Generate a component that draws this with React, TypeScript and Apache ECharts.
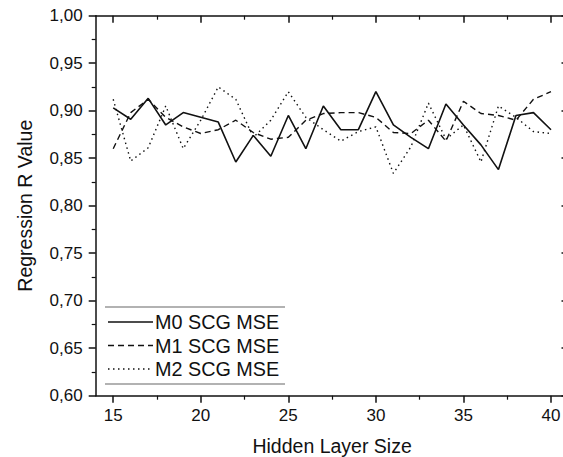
import React, { useEffect, useRef } from "react";
import * as echarts from "echarts";

const hiddenSizes = [15, 16, 17, 18, 19, 20, 21, 22, 23, 24, 25, 26, 27, 28, 29, 30, 31, 32, 33, 34, 35, 36, 37, 38, 39, 40];
const m0 = [0.903, 0.891, 0.913, 0.885, 0.898, 0.893, 0.888, 0.846, 0.874, 0.852, 0.895, 0.860, 0.905, 0.880, 0.880, 0.920, 0.885, 0.872, 0.860, 0.907, 0.885, 0.864, 0.838, 0.895, 0.898, 0.880];
const m1 = [0.860, 0.898, 0.912, 0.893, 0.883, 0.876, 0.880, 0.890, 0.877, 0.870, 0.872, 0.890, 0.897, 0.898, 0.898, 0.893, 0.877, 0.876, 0.890, 0.868, 0.910, 0.897, 0.895, 0.890, 0.912, 0.920];
const m2 = [0.912, 0.847, 0.861, 0.905, 0.860, 0.890, 0.925, 0.912, 0.872, 0.890, 0.920, 0.893, 0.880, 0.868, 0.878, 0.883, 0.834, 0.862, 0.908, 0.870, 0.885, 0.846, 0.905, 0.893, 0.878, 0.876];
const seriesNames = ["M0 SCG MSE", "M1 SCG MSE", "M2 SCG MSE"];
const xMajorTicks = [15, 20, 25, 30, 35, 40];
const xMinorTicks = [17.5, 22.5, 27.5, 32.5, 37.5];

const FONT = "'Liberation Sans', Arial, sans-serif";
const INK = "#111";

export default function App() {
  const ref = useRef<HTMLDivElement>(null);
  useEffect(() => {
    if (!ref.current) return;
    const chart = echarts.init(ref.current, null, { renderer: "svg" });
    const toPairs = (vals: number[]) => hiddenSizes.map((x, i) => [x, vals[i]]);
    const lineTypes: any[] = ["solid", [6, 4], [1.5, 3.5]];
    const lineWidths = [1.6, 1.4, 1.4];
    const datasets = [m0, m1, m2];
    const xBase = { type: "value", min: 14, max: 41, gridIndex: 0, splitLine: { show: false } };

    const legendRowY = [322, 345.5, 369];
    const legendGraphics: any[] = [
      { type: "line", shape: { x1: 105, y1: 307, x2: 285, y2: 307 }, style: { stroke: "#999", lineWidth: 1.5 } },
      { type: "line", shape: { x1: 105, y1: 384, x2: 285, y2: 384 }, style: { stroke: "#999", lineWidth: 1.5 } },
    ];
    seriesNames.forEach((name, i) => {
      legendGraphics.push({
        type: "line",
        shape: { x1: 108, y1: legendRowY[i], x2: 153, y2: legendRowY[i] },
        style: { stroke: INK, lineWidth: lineWidths[i], lineDash: i === 0 ? null : lineTypes[i] },
      });
      legendGraphics.push({
        type: "text",
        x: 155,
        y: legendRowY[i],
        style: { text: name, fill: INK, font: `19.8px ${FONT}`, verticalAlign: "middle", align: "left" },
      });
    });

    chart.setOption({
      animation: false,
      backgroundColor: "#fff",
      textStyle: { fontFamily: FONT },
      grid: { left: 95.7, top: 15.7, height: 380, width: 472.8, containLabel: false, outerBoundsMode: "none" },
      graphic: legendGraphics,
      xAxis: [
        {
          ...xBase,
          position: "bottom",
          name: "Hidden Layer Size",
          nameLocation: "middle",
          nameGap: 40,
          nameTextStyle: { fontSize: 19.5, color: INK, fontFamily: FONT },
          axisLine: { show: true, lineStyle: { color: INK, width: 1.5 } },
          axisTick: { show: true, length: 7, customValues: xMajorTicks, lineStyle: { color: INK, width: 1.5 } },
          axisLabel: { show: true, customValues: xMajorTicks, fontSize: 17, color: INK, margin: 11, fontFamily: FONT },
        },
        {
          ...xBase,
          position: "bottom",
          axisLine: { show: false },
          axisTick: { show: true, length: 4, customValues: xMinorTicks, lineStyle: { color: INK, width: 1.2 } },
          axisLabel: { show: false },
        },
        {
          ...xBase,
          position: "top",
          axisLine: { show: true, lineStyle: { color: INK, width: 1.5 } },
          axisTick: { show: true, inside: true, length: 7, customValues: xMajorTicks, lineStyle: { color: INK, width: 1.5 } },
          axisLabel: { show: false },
        },
        {
          ...xBase,
          position: "top",
          axisLine: { show: false },
          axisTick: { show: true, inside: true, length: 4, customValues: xMinorTicks, lineStyle: { color: INK, width: 1.2 } },
          axisLabel: { show: false },
        },
      ],
      yAxis: [
        {
          type: "value",
          min: 0.6,
          max: 1.0,
          interval: 0.05,
          position: "left",
          name: "Regression R Value",
          nameLocation: "middle",
          nameGap: 61,
          nameTextStyle: { fontSize: 19.5, color: INK, fontFamily: FONT },
          splitLine: { show: false },
          axisLine: { show: true, lineStyle: { color: INK, width: 1.5 } },
          axisTick: { show: true, length: 7, lineStyle: { color: INK, width: 1.5 } },
          minorTick: { show: true, splitNumber: 2, length: 4, lineStyle: { color: INK, width: 1.2 } },
          axisLabel: {
            fontSize: 17,
            color: INK,
            margin: 13,
            fontFamily: FONT,
            formatter: (v: number) => v.toFixed(2).replace(".", ","),
          },
        },
        {
          type: "value",
          min: 0.6,
          max: 1.0,
          interval: 0.05,
          position: "right",
          splitLine: { show: false },
          axisLine: { show: true, lineStyle: { color: INK, width: 1.5 } },
          axisTick: { show: true, inside: true, length: 7, lineStyle: { color: INK, width: 1.5 } },
          minorTick: { show: true, splitNumber: 2, length: 4, lineStyle: { color: INK, width: 1.2 } },
          axisLabel: { show: false },
        },
      ],
      series: datasets.map((d, i) => ({
        name: seriesNames[i],
        type: "line",
        xAxisIndex: 0,
        yAxisIndex: 0,
        data: toPairs(d),
        symbol: "none",
        color: INK,
        lineStyle: { color: INK, width: lineWidths[i], type: lineTypes[i] },
        itemStyle: { color: INK },
      })),
    });
    return () => chart.dispose();
  }, []);
  return <div ref={ref} style={{ position: "fixed", left: 0, top: 0, width: 563, height: 457 }} />;
}
